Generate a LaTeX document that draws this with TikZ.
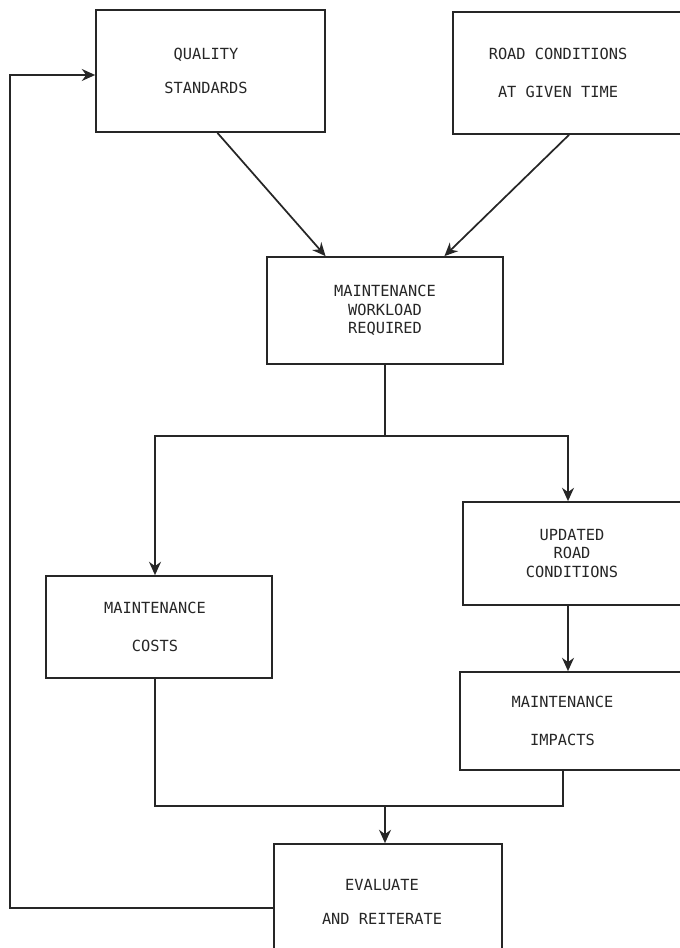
\documentclass[tikz,border=0pt]{standalone}
\usepackage{fontspec}
\newfontfamily\scanmono{DejaVu Sans Mono}
\usetikzlibrary{arrows.meta, calc}
\definecolor{scanInk}{HTML}{262626}

\begin{document}
\begin{tikzpicture}[x=0.75pt, y=0.75pt, line width=1.3pt, color=scanInk,
    box/.style={draw, inner sep=0pt},
    flow/.style={-{Stealth[length=10pt, width=9pt]}}]
  \useasboundingbox (0,0) rectangle (680,-948);
  \clip (0,0) rectangle (680,-948);
  \foreach \name/\cx/\cy/\w/\h/\dx/\gap/\txt in {
      qual/210.5/71/229/122/-4.5/26/{QUALITY\\STANDARDS},
      road/569/73/232/122/-11/28/{ROAD CONDITIONS\\AT GIVEN TIME},
      work/385/310.5/236/107/0/14/{MAINTENANCE\\WORKLOAD\\REQUIRED},
      cost/159/627/226/102/-4/28/{MAINTENANCE\\COSTS},
      upd/574/553.5/222/103/-2/14/{UPDATED\\ROAD\\CONDITIONS},
      imp/572.5/721/225/98/-10/28/{MAINTENANCE\\IMPACTS},
      eval/388/902/228/116/-6/26/{EVALUATE\\AND REITERATE}} {
    \node[box, minimum width=\w*0.75pt, minimum height=\h*0.75pt,
      label={[align=center, xshift=\dx*0.75pt, text=scanInk,
        font=\scanmono\fontsize{11.5}{\gap}\selectfont]center:\txt}] (\name) at (\cx,-\cy) {};
  }
  % inputs into the workload
  \draw[flow] ($(qual.south west)!0.53!(qual.south east)$) -- ($(work.north west)!0.25!(work.north east)$);
  \draw[flow] (road.south) -- ($(work.north west)!0.75!(work.north east)$);
  % split into costs and updated conditions
  \coordinate (split) at ($(work.south)+(0,-71)$);
  \draw (work.south) -- (split);
  \draw[flow] (split) -| ($(cost.north)+(-4,0)$);
  \draw[flow] (split) -| ($(upd.north)+(-6,0)$);
  \draw[flow] ($(upd.south)+(-6,0)$) -- ($(imp.north)+(-4.5,0)$);
  % join into evaluation
  \coordinate (join) at (385,-806);
  \draw ($(cost.south)+(-4,0)$) |- (join) -| ($(imp.south)+(-9.5,0)$);
  \draw[flow] (join) -- (join |- eval.north);
  % feedback loop
  \draw[flow] ($(eval.west)+(0,-6)$) -- ++(-263,0) |- ($(qual.west)+(0,-4)$);
\end{tikzpicture}
\end{document}
